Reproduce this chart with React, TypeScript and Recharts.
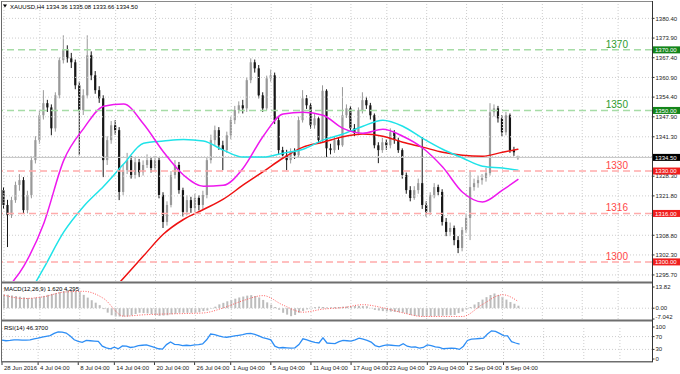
import React from "react";
import { Bar, ComposedChart, Line, ReferenceLine, XAxis, YAxis } from "recharts";

// XAUUSD H4, one candle per slot: [open, high, low, close]
const candles: number[][] = [
  [1323.7, 1324.7, 1317.5, 1318.8], [1318.8, 1320.5, 1304.9, 1315.5], [1315.5, 1321.5, 1314.5, 1320.4],
  [1320.4, 1326.5, 1319.5, 1325.4], [1325.4, 1329.0, 1323.5, 1327.0], [1327.0, 1328.0, 1315.8, 1317.1],
  [1317.1, 1323.5, 1316.0, 1322.1], [1322.1, 1334.8, 1321.0, 1333.6], [1333.6, 1341.5, 1332.5, 1340.2],
  [1340.2, 1350.0, 1339.0, 1348.4], [1348.4, 1356.7, 1347.0, 1352.4], [1352.4, 1353.5, 1349.5, 1351.0],
  [1351.0, 1352.0, 1341.8, 1344.1], [1344.1, 1356.0, 1343.0, 1355.0], [1355.0, 1367.5, 1354.0, 1366.6],
  [1366.6, 1374.8, 1365.5, 1369.9], [1369.9, 1371.5, 1365.8, 1367.2], [1367.2, 1369.0, 1364.0, 1365.9],
  [1365.9, 1366.8, 1357.0, 1358.3], [1358.3, 1359.5, 1335.2, 1350.1], [1350.1, 1357.0, 1348.5, 1355.0],
  [1355.0, 1374.8, 1354.0, 1368.2], [1368.2, 1369.5, 1360.0, 1361.6], [1361.6, 1363.0, 1355.5, 1356.7],
  [1356.7, 1358.0, 1352.5, 1354.0], [1354.0, 1355.0, 1328.0, 1333.6], [1333.6, 1341.5, 1332.0, 1340.2],
  [1340.2, 1346.5, 1339.0, 1345.1], [1345.1, 1346.8, 1342.0, 1343.5], [1343.5, 1344.5, 1320.4, 1323.1],
  [1323.1, 1332.0, 1322.0, 1330.3], [1330.3, 1336.0, 1329.0, 1333.6], [1333.6, 1335.0, 1327.5, 1328.7],
  [1328.7, 1334.5, 1327.5, 1332.9], [1332.9, 1334.0, 1328.0, 1329.6], [1329.6, 1333.5, 1328.5, 1332.0],
  [1332.0, 1335.5, 1331.0, 1333.6], [1333.6, 1334.5, 1329.5, 1331.0], [1331.0, 1335.0, 1330.0, 1333.6],
  [1333.6, 1334.5, 1321.0, 1322.1], [1322.1, 1323.0, 1311.2, 1313.2], [1313.2, 1320.0, 1312.0, 1318.8],
  [1318.8, 1330.0, 1318.0, 1328.7], [1328.7, 1333.6, 1327.5, 1332.0], [1332.0, 1333.0, 1322.5, 1323.7],
  [1323.7, 1324.5, 1315.0, 1316.5], [1316.5, 1322.0, 1315.5, 1320.4], [1320.4, 1321.5, 1316.2, 1317.8],
  [1317.8, 1322.5, 1316.5, 1321.1], [1321.1, 1322.0, 1317.0, 1318.8], [1318.8, 1323.5, 1317.5, 1322.1],
  [1322.1, 1334.5, 1321.0, 1333.6], [1333.6, 1342.0, 1332.5, 1340.2], [1340.2, 1345.0, 1338.5, 1343.5],
  [1343.5, 1344.5, 1337.0, 1338.5], [1338.5, 1340.0, 1330.3, 1336.9], [1336.9, 1343.0, 1336.0, 1341.8],
  [1341.8, 1348.0, 1340.5, 1346.8], [1346.8, 1351.5, 1345.5, 1350.1], [1350.1, 1353.0, 1349.0, 1351.7],
  [1351.7, 1353.5, 1349.0, 1350.7], [1350.7, 1361.0, 1349.5, 1360.0], [1360.0, 1367.2, 1359.0, 1365.9],
  [1365.9, 1366.8, 1362.5, 1363.9], [1363.9, 1365.0, 1354.0, 1355.0], [1355.0, 1356.0, 1349.5, 1350.7],
  [1350.7, 1361.5, 1350.0, 1360.6], [1360.6, 1363.5, 1359.5, 1361.6], [1361.6, 1362.5, 1345.5, 1346.8],
  [1346.8, 1348.0, 1335.5, 1336.9], [1336.9, 1338.0, 1334.0, 1335.2], [1335.2, 1337.0, 1330.3, 1333.6],
  [1333.6, 1337.5, 1332.5, 1336.2], [1336.2, 1337.5, 1334.0, 1335.2], [1335.2, 1348.0, 1334.5, 1346.8],
  [1346.8, 1356.7, 1346.0, 1354.0], [1354.0, 1355.0, 1350.5, 1351.7], [1351.7, 1352.5, 1344.0, 1345.1],
  [1345.1, 1349.0, 1344.0, 1347.4], [1347.4, 1348.0, 1339.0, 1340.2], [1340.2, 1358.3, 1339.5, 1356.5],
  [1356.5, 1357.0, 1334.6, 1337.5], [1337.5, 1339.0, 1335.5, 1336.9], [1336.9, 1341.5, 1336.0, 1340.2],
  [1340.2, 1341.0, 1337.0, 1338.5], [1338.5, 1357.7, 1338.0, 1348.4], [1348.4, 1352.0, 1347.5, 1350.7],
  [1350.7, 1351.5, 1343.0, 1344.1], [1344.1, 1345.5, 1341.5, 1342.5], [1342.5, 1351.0, 1341.8, 1350.1],
  [1350.1, 1356.0, 1349.0, 1353.4], [1353.4, 1354.5, 1350.5, 1351.7], [1351.7, 1352.5, 1347.0, 1348.4],
  [1348.4, 1349.0, 1337.5, 1338.5], [1338.5, 1339.5, 1332.6, 1336.9], [1336.9, 1341.0, 1336.0, 1339.5],
  [1339.5, 1340.5, 1337.0, 1338.5], [1338.5, 1344.1, 1337.5, 1342.8], [1342.8, 1343.5, 1339.0, 1340.2],
  [1340.2, 1341.0, 1336.0, 1336.9], [1336.9, 1337.5, 1327.5, 1328.7], [1328.7, 1329.5, 1322.5, 1323.7],
  [1323.7, 1325.0, 1320.0, 1321.1], [1321.1, 1325.0, 1320.5, 1323.7], [1323.7, 1327.5, 1322.5, 1326.0],
  [1326.0, 1341.2, 1317.5, 1318.8], [1318.8, 1320.0, 1315.0, 1316.5], [1316.5, 1323.0, 1315.5, 1322.1],
  [1322.1, 1326.0, 1321.0, 1324.7], [1324.7, 1325.5, 1322.0, 1323.1], [1323.1, 1324.0, 1312.0, 1313.2],
  [1313.2, 1314.5, 1308.5, 1309.9], [1309.9, 1313.0, 1308.5, 1311.2], [1311.2, 1312.0, 1305.5, 1307.2],
  [1307.2, 1308.5, 1302.9, 1304.6], [1304.6, 1311.5, 1303.5, 1310.5], [1310.5, 1316.0, 1309.5, 1314.5],
  [1314.5, 1330.3, 1307.2, 1324.7], [1324.7, 1327.5, 1323.5, 1326.0], [1326.0, 1328.5, 1324.5, 1327.0],
  [1327.0, 1329.0, 1325.5, 1327.7], [1327.7, 1331.0, 1326.5, 1329.3], [1329.3, 1352.4, 1328.5, 1349.4],
  [1349.4, 1352.0, 1348.0, 1350.7], [1350.7, 1351.5, 1346.0, 1347.4], [1347.4, 1348.5, 1341.5, 1342.8],
  [1342.8, 1349.5, 1341.8, 1348.4], [1348.4, 1349.0, 1336.0, 1336.9], [1336.9, 1338.0, 1335.0, 1336.2],
  [1334.36, 1335.08, 1333.66, 1334.5],
];

// moving averages, one reading every 5 candles (last one on the last candle)
const MA_STEP = 5;
const maFast = [
  1290.1, 1298.7, 1312.8, 1333.6, 1344.1, 1351.4, 1352.1, 1345.5, 1336.3, 1328.7, 1325.0, 1325.3, 1331.0, 1341.5,
  1348.8, 1349.4, 1348.4, 1344.1, 1342.5, 1343.8, 1341.5, 1337.6, 1331.3, 1323.0, 1319.8, 1323.7, 1327.3,
];
const maMid = [
  1275.0, 1286.5, 1298.0, 1309.9, 1318.4, 1325.0, 1332.3, 1339.2, 1339.9, 1340.4, 1339.9, 1336.9, 1334.6, 1334.6,
  1335.9, 1337.2, 1340.2, 1342.2, 1344.8, 1346.8, 1344.8, 1340.8, 1337.2, 1334.3, 1331.6, 1331.0, 1330.3,
];
const maSlow = [
  null, null, null, null, null, 1287.4, 1294.7, 1302.0, 1309.2, 1314.0, 1317.3, 1320.7, 1325.4, 1329.8,
  1334.3, 1337.9, 1339.5, 1341.3, 1342.2, 1341.5, 1339.5, 1337.9, 1336.2, 1335.2, 1334.9, 1336.2, 1337.2,
];

const macdMain = [
  9.0, 8.7, 8.3, 7.9, 7.5, 7.1, 6.7, 6.6, 7.0, 7.5,
  8.0, 8.7, 9.3, 9.8, 10.5, 11.2, 11.7, 11.7, 11.0, 10.5,
  8.7, 6.9, 5.2, 3.6, 2.0, -0.6, -2.9, -4.6, -5.4, -5.4,
  -5.4, -5.4, -4.7, -3.8, -3.0, -3.2, -3.4, -3.8, -4.4, -5.0,
  -4.8, -4.6, -4.0, -3.6, -3.0, -3.0, -3.0, -3.0, -3.0, -2.6,
  -1.9, -1.5, -0.3, 1.0, 2.5, 3.5, 4.5, 5.4, 6.2, 7.0,
  7.6, 8.2, 8.5, 7.9, 7.0, 5.4, 3.8, 2.3, 0.8, -1.0,
  -3.0, -4.2, -5.2, -4.4, -3.0, -1.8, -0.8, 0.3, 0.7, 1.0,
  0.8, 0.5, 0.6, 0.7, 0.8, 1.0, 1.1, 1.3, 1.4, 1.5,
  1.4, 1.3, 0.2, -1.1, -1.5, -1.9, -2.1, -2.2, -2.4, -2.6,
  -2.9, -3.6, -4.4, -5.0, -5.2, -5.4, -5.5, -5.3, -5.2, -5.0,
  -4.9, -4.7, -4.6, -4.4, -3.2, -2.2, -0.8, 0.8, 2.4, 4.0,
  5.6, 7.2, 8.6, 9.6, 8.6, 7.4, 5.6, 4.0, 2.9, 1.62,
];
const macdSignal = [
  8.5, 6.3, 7.5, 10.5, 11.0, 6.3, -5.2, -4.3, -3.8, -3.5, -3.1, 0.2, 5.0, 8.2,
  2.0, -2.6, -0.6, 0.4, 2.3, 0.3, -3.0, -5.4, -5.4, -5.4, 2.5, 8.8, 4.295,
];

const rsi = [
  59, 57, 58, 60, 60, 59, 59, 60, 63, 65,
  68, 71, 73, 80, 85, 84, 81, 72, 60, 55,
  52, 58, 57, 56, 55, 40, 35, 32, 37, 32,
  41, 40, 36, 38, 42, 43, 44, 40, 36, 32,
  31, 45, 53, 46, 45, 42, 43, 42, 44, 45,
  47, 60, 78, 76, 72, 69, 68, 70, 72, 74,
  76, 79, 80, 77, 72, 67, 64, 60, 40, 35,
  36, 35, 34, 35, 45, 63, 60, 55, 52, 50,
  66, 50, 49, 48, 54, 58, 57, 56, 60, 65,
  62, 58, 53, 42, 38, 42, 44, 43, 42, 41,
  48, 40, 37, 38, 34, 36, 44, 42, 38, 36,
  32, 33, 34, 33, 30, 40, 58, 62, 63, 64,
  65, 78, 88, 86, 80, 73, 72, 54, 50, 46.37,
];

const SLOTS = 163;
const timeTicks = [0, 9, 19, 28, 38, 48, 57, 67, 77, 87, 96, 106, 116, 125, 135, 145, 154];
const timeLabels = [
  "28 Jun 2016", "4 Jul 04:00", "8 Jul 04:00", "14 Jul 04:00", "20 Jul 04:00", "26 Jul 04:00",
  "1 Aug 04:00", "5 Aug 04:00", "11 Aug 04:00", "17 Aug 04:00", "23 Aug 04:00", "29 Aug 04:00",
  "2 Sep 04:00", "8 Sep 04:00", "", "", "",
];
const priceTicks = [
  1380.4, 1373.9, 1367.4, 1360.9, 1354.4, 1347.9, 1341.3, 1334.8, 1328.3, 1321.8, 1315.3, 1308.8, 1302.3, 1295.7,
];
const levelValues = [1370, 1350, 1330, 1316, 1300];
const levelUp = [true, true, false, false, false];
const lastPrice = 1334.5;
const macdTicks = [13.82, 0, -7.042];
const macdTickLabels = ["13.82", "0.00", "-7.042"];
const rsiTicks = [100, 70, 30, 0];

const FONT = "'Liberation Sans', Arial, sans-serif";
const GRID = "#cdcdcd";

const rows: any[] = Array.from({ length: SLOTS }, (_, i) => {
  const c = candles[i];
  if (!c) return { t: i };
  return { t: i, o: c[0], h: c[1], l: c[2], c: c[3], macd: macdMain[i], rsi: rsi[i] };
});
const last = candles.length - 1;
maFast.forEach((v, k) => (rows[Math.min(k * MA_STEP, last)].fast = v));
maMid.forEach((v, k) => (rows[Math.min(k * MA_STEP, last)].mid = v));
maSlow.forEach((v, k) => (rows[Math.min(k * MA_STEP, last)].slow = v));
macdSignal.forEach((v, k) => (rows[Math.min(k * MA_STEP, last)].signal = v));

const Candle = (props: any) => {
  const { x, y, width, height, payload } = props;
  if (!payload || payload.o == null) return null;
  const top = Math.min(y, y + height);
  const span = Math.abs(height);
  const range = payload.h - payload.l || 1;
  const py = (v: number) => top + ((payload.h - v) / range) * span;
  const up = payload.c >= payload.o;
  const color = up ? "#999999" : "#161616";
  const cx = x + width / 2;
  const bt = py(Math.max(payload.o, payload.c));
  const bb = py(Math.min(payload.o, payload.c));
  return (
    <g>
      <line x1={cx} x2={cx} y1={top} y2={top + span} stroke={color} strokeWidth={1} />
      <rect x={cx - 1.1} y={bt} width={2.2} height={Math.max(bb - bt, 1)} fill={color} />
    </g>
  );
};

const PriceTick = (props: any) => {
  const { x, y, payload } = props;
  const v = payload.value;
  const li = levelValues.indexOf(v);
  if (li >= 0 || v === lastPrice) {
    const bg = v === lastPrice ? "#000000" : levelUp[li] ? "#13851a" : "#f01e1e";
    return (
      <g>
        <rect x={x + 1} y={y - 3.5} width={27} height={7} fill={bg} />
        <text x={x + 3} y={y + 0.3} fill="#fff" fontSize={6} fontFamily={FONT} dominantBaseline="central">
          {v.toFixed(2)}
        </text>
      </g>
    );
  }
  const hidden = [...levelValues, lastPrice].some((b) => Math.abs(b - v) < 1.2);
  return (
    <g>
      <line x1={x} x2={x + 2.5} y1={y} y2={y} stroke="#333" />
      {!hidden && (
        <text x={x + 3.5} y={y + 0.3} fill="#222" fontSize={6} fontFamily={FONT} dominantBaseline="central">
          {v.toFixed(2)}
        </text>
      )}
    </g>
  );
};

const SubTick = (props: any) => {
  const { x, y, payload, labels, values, shift } = props;
  const i = values.indexOf(payload.value);
  const text = labels ? labels[i] : String(payload.value);
  return (
    <g>
      <line x1={x} x2={x + 2.5} y1={y} y2={y} stroke="#333" />
      <text x={x + 3.5} y={y + (shift ? shift[i] : 0)} fill="#222" fontSize={6} fontFamily={FONT} dominantBaseline="central">
        {text}
      </text>
    </g>
  );
};

const TimeTick = (props: any) => {
  const { x, y, payload } = props;
  const i = timeTicks.indexOf(payload.value);
  const text = timeLabels[i];
  if (!text) return null;
  return (
    <g>
      <line x1={x} x2={x} y1={y + 3} y2={y + 6} stroke="#333" />
      <text x={x + 2} y={y + 11} fill="#222" fontSize={6} fontFamily={FONT}>
        {text}
      </text>
    </g>
  );
};

const LevelLabel = (props: any) => {
  const { viewBox, text, color } = props;
  if (!viewBox) return null;
  return (
    <text x={viewBox.x + viewBox.width - 24} y={viewBox.y - 2} textAnchor="end" fill={color} fontSize={10} fontFamily={FONT}>
      {text}
    </text>
  );
};

const verticalGrid = (prefix: string) =>
  timeTicks.map((t) => <ReferenceLine key={prefix + t} x={t} stroke={GRID} strokeDasharray="1 2" />);

export default function App() {
  return (
    <div style={{ position: "absolute", left: 0, top: 0, width: 680, height: 374, background: "#fff", overflow: "hidden" }}>
      <div style={{ position: "absolute", left: 0, top: 0 }}>
        <ComposedChart width={680} height={283} data={rows} margin={{ top: 2, right: 0, bottom: 2, left: 2 }}>
          <XAxis dataKey="t" type="category" hide />
          <YAxis
            orientation="right"
            width={28}
            domain={[1293.7, 1385.8]}
            allowDataOverflow
            ticks={[...priceTicks, ...levelValues, lastPrice]}
            interval={0}
            tick={<PriceTick />}
            tickLine={false}
            axisLine={false}
            tickSize={0}
            tickMargin={0}
          />
          {verticalGrid("m")}
          {priceTicks.map((p) => (
            <ReferenceLine key={"h" + p} y={p} stroke={GRID} strokeDasharray="1 2" />
          ))}
          <ReferenceLine y={lastPrice} stroke="#c4c4c4" />
          <Bar dataKey={(r: any) => (r.c == null ? null : [r.l, r.h])} shape={<Candle />} barSize={3} isAnimationActive={false} />
          <Line dataKey="slow" stroke="#ee1111" strokeWidth={1.5} dot={false} connectNulls type="monotone" isAnimationActive={false} />
          <Line dataKey="mid" stroke="#1fe3e8" strokeWidth={1.5} dot={false} connectNulls type="monotone" isAnimationActive={false} />
          <Line dataKey="fast" stroke="#ee18ee" strokeWidth={1.5} dot={false} connectNulls type="monotone" isAnimationActive={false} />
          {levelValues.map((v, i) => (
            <ReferenceLine
              key={"lv" + v}
              y={v}
              stroke={levelUp[i] ? "#a6dca6" : "#ffabab"}
              strokeWidth={1.5}
              strokeDasharray="7 4"
              label={<LevelLabel text={String(v)} color={levelUp[i] ? "#2e9b2e" : "#ff4848"} />}
            />
          ))}
        </ComposedChart>
      </div>

      <div style={{ position: "absolute", left: 0, top: 283 }}>
        <ComposedChart width={680} height={38} data={rows} margin={{ top: 4, right: 0, bottom: 2, left: 2 }}>
          <XAxis dataKey="t" type="category" hide />
          <YAxis
            orientation="right"
            width={28}
            domain={[-7.042, 13.82]}
            allowDataOverflow
            ticks={macdTicks}
            interval={0}
            tick={<SubTick values={macdTicks} labels={macdTickLabels} shift={[0, 0, -2]} />}
            tickLine={false}
            axisLine={false}
            tickSize={0}
            tickMargin={0}
          />
          {verticalGrid("d")}
          <ReferenceLine y={0} stroke={GRID} strokeDasharray="1 2" />
          <Bar dataKey="macd" fill="#bcbcbc" barSize={2} isAnimationActive={false} />
          <Line dataKey="signal" stroke="#ff5c5c" strokeWidth={1} strokeDasharray="1 1.5" dot={false} connectNulls type="monotone" isAnimationActive={false} />
        </ComposedChart>
      </div>

      <div style={{ position: "absolute", left: 0, top: 321 }}>
        <ComposedChart width={680} height={53} data={rows} margin={{ top: 6, right: 0, bottom: 0, left: 2 }}>
          <XAxis
            dataKey="t"
            type="category"
            ticks={timeTicks}
            interval={0}
            tick={<TimeTick />}
            height={15}
            axisLine={false}
            tickLine={false}
            tickSize={0}
            tickMargin={0}
          />
          <YAxis
            orientation="right"
            width={28}
            domain={[0, 100]}
            ticks={rsiTicks}
            interval={0}
            tick={<SubTick values={rsiTicks} />}
            tickLine={false}
            axisLine={false}
            tickSize={0}
            tickMargin={0}
          />
          {verticalGrid("r")}
          <ReferenceLine y={70} stroke={GRID} strokeDasharray="1 2" />
          <ReferenceLine y={30} stroke={GRID} strokeDasharray="1 2" />
          <Line dataKey="rsi" stroke="#2e8ef5" strokeWidth={1.3} dot={false} isAnimationActive={false} />
        </ComposedChart>
      </div>

      <svg width={680} height={374} style={{ position: "absolute", left: 0, top: 0, pointerEvents: "none" }}>
        <line x1={1} x2={652} y1={1.5} y2={1.5} stroke="#8a8a8a" />
        <line x1={1.5} x2={1.5} y1={1} y2={362} stroke="#6a6a6a" />
        <rect x={1} y={281.5} width={652} height={2} fill="#6e6e6e" />
        <rect x={1} y={319.5} width={652} height={2} fill="#6e6e6e" />
        <rect x={1} y={361} width={652} height={1.5} fill="#6e6e6e" />
        <line x1={652.5} x2={652.5} y1={1} y2={362} stroke="#333" />
        <path d="M3,4.5 L7,4.5 L5,7.5 Z" fill="#000" />
        <text x={10} y={8.5} fontSize={6} fontFamily={FONT} fill="#000">
          XAUUSD,H4  1334.36 1335.08 1333.66 1334.50
        </text>
        <text x={4} y={291} fontSize={6} fontFamily={FONT} fill="#000">
          MACD(12,26,9) 1.620 4.295
        </text>
        <text x={4} y={330} fontSize={6} fontFamily={FONT} fill="#000">
          RSI(14) 46.3700
        </text>
      </svg>
    </div>
  );
}
